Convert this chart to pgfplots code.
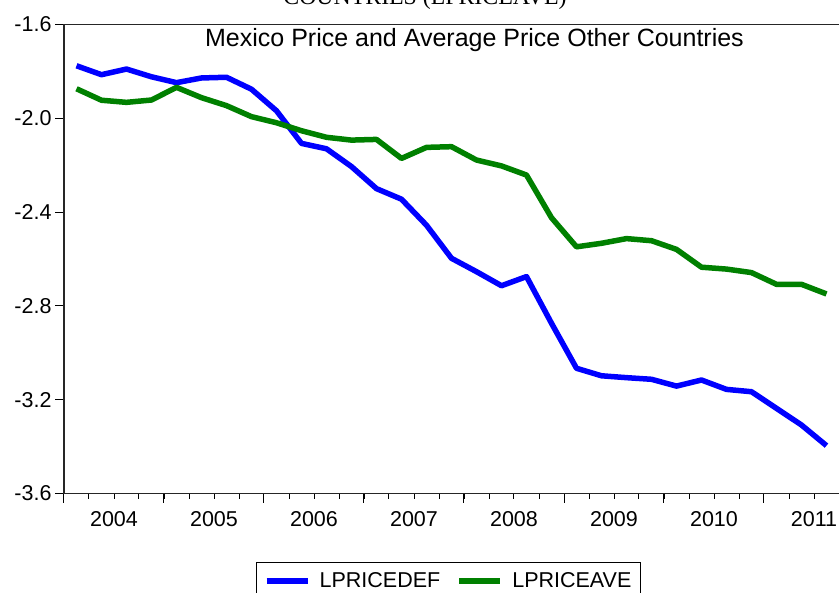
\documentclass[border=0pt]{standalone}
\usepackage{fontspec}
\setmainfont{Liberation Sans}
\newfontfamily\timesfont{Liberation Serif}
\usepackage{pgfplots}
\usepackage{pgfplotstable}
\pgfplotsset{compat=1.18}

\definecolor{evblue}{RGB}{0,0,255}
\definecolor{evgreen}{RGB}{0,128,0}

% quarterly series, plotted at the middle of each quarter
\pgfplotstableread{
t        def     ave
2004.125 -1.776  -1.874
2004.375 -1.814  -1.923
2004.625 -1.790  -1.932
2004.875 -1.823  -1.922
2005.125 -1.848  -1.868
2005.375 -1.828  -1.912
2005.625 -1.825  -1.946
2005.875 -1.876  -1.993
2006.125 -1.968  -2.019
2006.375 -2.107  -2.053
2006.625 -2.130  -2.081
2006.875 -2.206  -2.093
2007.125 -2.300  -2.090
2007.375 -2.345  -2.171
2007.625 -2.456  -2.124
2007.875 -2.597  -2.121
2008.125 -2.654  -2.178
2008.375 -2.714  -2.203
2008.625 -2.675  -2.242
2008.875 -2.874  -2.424
2009.125 -3.066  -2.548
2009.375 -3.098  -2.533
2009.625 -3.106  -2.513
2009.875 -3.113  -2.522
2010.125 -3.142  -2.559
2010.375 -3.116  -2.635
2010.625 -3.156  -2.643
2010.875 -3.166  -2.658
2011.125 -3.237  -2.708
2011.375 -3.308  -2.708
2011.625 -3.396  -2.749
}\prices

\begin{document}
\begin{tikzpicture}
\begin{axis}[
  at={(64pt,-493.5pt)}, anchor=south west,
  scale only axis,
  width=780pt, height=469pt,
  xmin=2004, xmax=2011.8,
  ymin=-3.6, ymax=-1.6,
  axis line style={line width=1.6pt, color=black!85},
  tick style={line width=1pt, color=black},
  tick align=outside,
  tick pos=left,
  major tick length=9pt,
  minor tick length=5pt,
  xtick={2004,2005,...,2011},
  xticklabels={},
  minor xtick={2004.25,2004.5,...,2011.5},
  extra x ticks={2004.5,2005.5,2006.5,2007.5,2008.5,2009.5,2010.5,2011.5},
  extra x tick labels={2004,2005,2006,2007,2008,2009,2010,2011},
  extra x tick style={tick style={draw=none}, xticklabel style={yshift=-5pt}},
  ytick={-3.6,-3.2,-2.8,-2.4,-2.0,-1.6},
  yticklabels={-3.6,-3.2,-2.8,-2.4,-2.0,-1.6},
  ticklabel style={font=\fontsize{21.5}{24}\selectfont},
  legend columns=2,
  legend style={
    at={(axis description cs:0.493,-0.146)}, anchor=north,
    draw=black, line width=1pt, inner ysep=8pt, inner xsep=7pt,
    font=\fontsize{21.5}{24}\selectfont,
    /tikz/every odd column/.append style={column sep=7pt},
    /tikz/every even column/.append style={column sep=14pt}},
  legend image code/.code={
    \draw[#1, line width=6pt] (0pt,0pt) -- (41pt,0pt);},
]
\addplot[evblue, line width=5.5pt, line join=round] table[x=t, y=def] {\prices};
\addlegendentry{LPRICEDEF}
\addplot[evgreen, line width=5.5pt, line join=round] table[x=t, y=ave] {\prices};
\addlegendentry{LPRICEAVE}
\end{axis}
\node[font=\timesfont\fontsize{23.8}{26}\selectfont, anchor=base] at (425pt,-5pt) {COUNTRIES (LPRICEAVE)};
\node[font=\fontsize{25}{28}\selectfont, anchor=base] at (474.5pt,-47pt) {Mexico Price and Average Price Other Countries};
\pgfresetboundingbox
\useasboundingbox (0pt,0pt) rectangle (839pt,-593pt);
\end{tikzpicture}
\end{document}
